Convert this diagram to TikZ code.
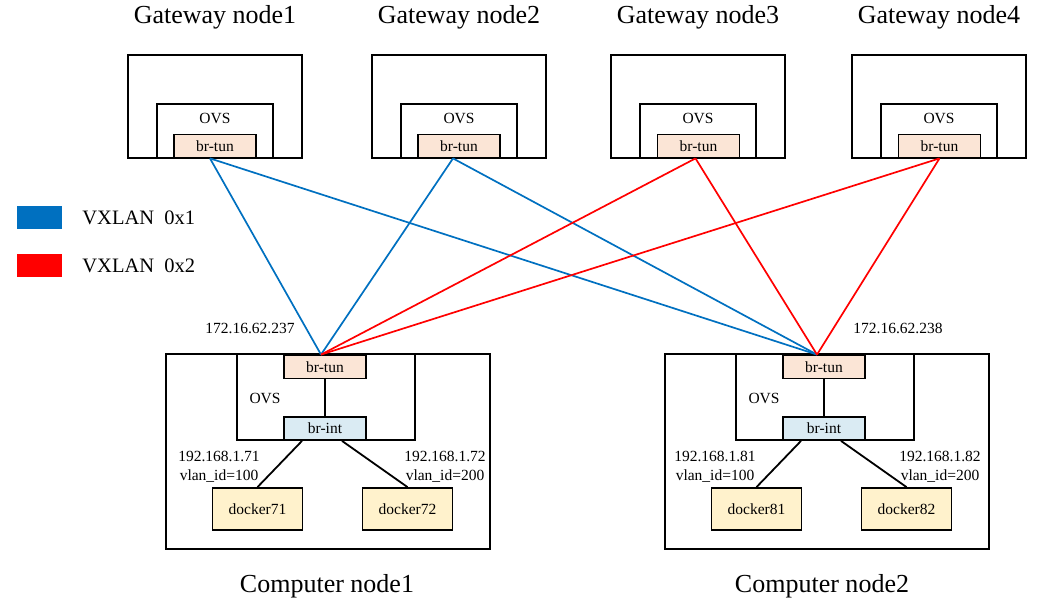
\documentclass[tikz,border=0pt]{standalone}
\usepackage{fontspec}
\setmainfont{Liberation Serif}
\usetikzlibrary{positioning}
\definecolor{vxblue}{RGB}{0,112,192}
\definecolor{vxred}{RGB}{255,0,0}
\definecolor{tunfill}{RGB}{251,229,214}
\definecolor{intfill}{RGB}{218,235,243}
\definecolor{dockfill}{RGB}{255,242,204}
\newcommand{\lblsize}{\fontsize{15.5}{18.5}\selectfont}
\newcommand{\keysize}{\fontsize{20.5}{24}\selectfont}
\newcommand{\ttlsize}{\fontsize{26}{30}\selectfont}
\tikzset{
  boxline/.style={draw, line width=1.8pt, inner sep=0pt},
  gwbox/.style={boxline, minimum width=174pt, minimum height=103pt},
  gwovs/.style={boxline, minimum width=116pt, minimum height=54pt},
  hostbox/.style={boxline, minimum width=324pt, minimum height=195pt},
  hostovs/.style={boxline, minimum width=178pt, minimum height=86pt},
  brtun/.style={boxline, fill=tunfill, minimum width=82pt, minimum height=23pt},
  brint/.style={boxline, fill=intfill, minimum width=82pt, minimum height=23pt},
  docker/.style={boxline, fill=dockfill, minimum width=90pt, minimum height=42pt},
  title/.style={font=\ttlsize, inner sep=0pt},
  ipinfo/.style={align=center, inner sep=0pt},
  keybox/.style={minimum width=45pt, minimum height=23pt, inner sep=0pt},
  vx1/.style={draw=vxblue, line width=1.7pt},
  vx2/.style={draw=vxred, line width=1.7pt},
  link/.style={draw, line width=1.8pt}
}
\begin{document}
\begin{tikzpicture}[x=1pt, y=-1pt, font=\lblsize]
  \useasboundingbox (0,0) rectangle (1056,607);
  \node[title] (gwname1) at (215,17) {Gateway node1};
  \node[gwbox] (gw1) at (215,106.5) {};
  \node[gwovs] (gwovs1) at (215,131) {};
  \node (gwlbl1) at (215,118) {OVS};
  \node[brtun] (gtun1) at (215,146) {br-tun};
  \node[title] (gwname2) at (459,17) {Gateway node2};
  \node[gwbox] (gw2) at (459,106.5) {};
  \node[gwovs] (gwovs2) at (459,131) {};
  \node (gwlbl2) at (459,118) {OVS};
  \node[brtun] (gtun2) at (459,146) {br-tun};
  \node[title] (gwname3) at (698,17) {Gateway node3};
  \node[gwbox] (gw3) at (698,106.5) {};
  \node[gwovs] (gwovs3) at (698,131) {};
  \node (gwlbl3) at (698,118) {OVS};
  \node[brtun] (gtun3) at (698.5,146) {br-tun};
  \node[title] (gwname4) at (939,17) {Gateway node4};
  \node[gwbox] (gw4) at (939,106.5) {};
  \node[gwovs] (gwovs4) at (939,131) {};
  \node (gwlbl4) at (939,118) {OVS};
  \node[brtun] (gtun4) at (939.5,146) {br-tun};

  \node[keybox, fill=vxblue] (key1) at (39.5,217.5) {};
  \node[font=\keysize, inner sep=0pt, right=20pt of key1] (keytxt1) {VXLAN\ \ 0x1};
  \node[keybox, fill=vxred] (key2) at (39.5,265.5) {};
  \node[font=\keysize, inner sep=0pt, right=20pt of key2] (keytxt2) {VXLAN\ \ 0x2};

  \node[hostbox] (host1) at (328,451.5) {};
  \node[hostovs] (hostovs1) at (326,397) {};
  \node (hostlbl1) at (265,398) {OVS};
  \node[brtun] (ctun1) at (325,367) {br-tun};
  \node[brint] (cint1) at (325,428.5) {br-int};
  \node[docker] (dk71) at (257.5,509) {docker71};
  \node[docker] (dk72) at (407.5,509) {docker72};
  \node[ipinfo] (ip71) at (219,467) {192.168.1.71\\vlan\_id=100};
  \node[ipinfo] (ip72) at (445,467) {192.168.1.72\\vlan\_id=200};
  \node (addr1) at (250,328) {172.16.62.237};
  \node[title] (hostname1) at (327,586) {Computer node1};

  \node[hostbox] (host2) at (827,451.5) {};
  \node[hostovs] (hostovs2) at (825,397) {};
  \node (hostlbl2) at (764,398) {OVS};
  \node[brtun] (ctun2) at (824,367) {br-tun};
  \node[brint] (cint2) at (824,428.5) {br-int};
  \node[docker] (dk81) at (756.5,509) {docker81};
  \node[docker] (dk82) at (906.5,509) {docker82};
  \node[ipinfo] (ip81) at (715,467) {192.168.1.81\\vlan\_id=100};
  \node[ipinfo] (ip82) at (940,467) {192.168.1.82\\vlan\_id=200};
  \node (addr2) at (898,328) {172.16.62.238};
  \node[title] (hostname2) at (822,586) {Computer node2};

  \draw[vx1] ([xshift=-5pt]gtun1.south) -- ([xshift=-4pt]ctun1.north);
  \draw[vx1] ([xshift=-5pt]gtun1.south) -- ([xshift=-7pt]ctun2.north);
  \draw[vx1] ([xshift=-6pt]gtun2.south) -- ([xshift=-4pt]ctun1.north);
  \draw[vx1] ([xshift=-6pt]gtun2.south) -- ([xshift=-7pt]ctun2.north);
  \draw[vx2] ([xshift=-3pt]gtun3.south) -- ([xshift=-4pt]ctun1.north);
  \draw[vx2] ([xshift=-3pt]gtun3.south) -- ([xshift=-7pt]ctun2.north);
  \draw[vx2] (gtun4.south) -- ([xshift=-4pt]ctun1.north);
  \draw[vx2] (gtun4.south) -- ([xshift=-7pt]ctun2.north);
  \draw[link] (ctun1) -- (cint1);
  \draw[link] ([xshift=-23pt]cint1.south) -- (dk71.north);
  \draw[link] ([xshift=17pt]cint1.south) -- (dk72.north);
  \draw[link] (ctun2) -- (cint2);
  \draw[link] ([xshift=-23pt]cint2.south) -- (dk81.north);
  \draw[link] ([xshift=17pt]cint2.south) -- (dk82.north);
\end{tikzpicture}
\end{document}
